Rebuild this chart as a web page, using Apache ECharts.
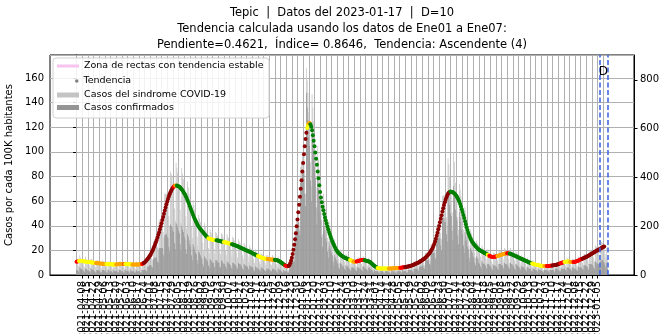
<!DOCTYPE html>
<html><head><meta charset="utf-8">
<script src="https://cdn.jsdelivr.net/npm/echarts@6/dist/echarts.min.js"></script>
<style>html,body{margin:0;padding:0;background:#fff}#c{width:669px;height:334px}</style>
</head><body><div id="c"></div>
<script>
// ---- data ----
const startDate = '2021-04-01';
const reportDate = '2023-01-17';
const windowStartDate = '2023-01-07';
const tickStepDays = 7;

// daily "Casos del sindrome COVID-19" per 100K (one row per week, starting Thursday 2021-04-01)
const sindrome = [
12,11,8,7,16,14,13, 12,10,8,6,15,13,12, 11,10,8,6,13,13,12, 10,10,7,6,12,12,11,
10,9,7,5,12,11,11, 9,9,7,5,11,11,10, 9,9,6,5,11,10,10, 9,9,7,5,11,11,10,
10,9,7,5,11,11,10, 9,9,6,5,11,10,10, 9,9,6,5,11,10,10, 9,9,7,5,11,11,11,
11,11,9,7,16,17,17, 17,17,14,12,27,28,29, 28,29,23,20,44,45,45, 44,45,35,30,66,66,66,
63,62,48,39,84,82,80, 74,72,54,44,91,87,83, 76,72,53,42,87,82,78, 70,65,48,38,76,71,66,
59,54,39,30,61,57,53, 46,43,31,24,49,46,43, 38,36,26,20,42,39,36, 33,30,22,18,37,35,33,
30,29,21,17,35,34,32, 29,28,21,17,34,33,31, 28,27,20,16,33,31,30, 27,25,19,15,31,30,28,
25,24,18,14,29,27,26, 23,22,16,13,26,25,23, 21,20,15,11,24,22,21, 19,18,13,10,21,19,18,
16,15,11,9,18,17,16, 14,13,10,8,16,16,15, 13,13,9,8,16,15,14, 13,12,9,7,15,14,13,
11,10,7,5,11,10,9, 8,7,5,4,10,11,13, 15,17,15,15,36,41,45, 47,51,43,38,88,92,97,
96,98,78,66,168,158,148, 132,124,92,72,147,136,125, 110,100,71,54,105,94,84, 71,63,44,33,66,59,54,
46,42,30,22,44,40,36, 31,28,19,15,29,26,23, 20,19,13,10,21,19,18, 16,15,11,8,17,16,15,
13,12,9,7,14,13,13, 11,11,8,7,14,14,13, 12,12,9,7,15,15,14, 12,12,8,7,14,13,12,
10,9,6,5,9,8,7, 6,6,4,3,7,6,6, 6,5,4,3,7,6,6, 5,5,4,3,7,6,6,
6,5,4,3,7,7,6, 6,6,4,4,8,7,7, 7,7,5,4,9,9,9, 8,8,6,5,11,11,10,
10,10,8,6,13,13,13, 13,13,10,8,18,18,18, 17,17,13,11,25,25,25, 25,25,20,18,40,41,43,
42,43,34,29,64,65,65, 62,61,47,39,95,90,80, 71,68,51,40,100,92,75, 68,64,47,37,74,69,64,
56,51,37,28,55,49,45, 38,34,24,18,37,34,31, 27,25,18,14,28,26,25, 22,20,15,12,24,22,21,
19,18,13,10,21,19,18, 16,15,11,9,18,18,17, 16,15,12,9,20,19,19, 17,17,13,10,22,21,20,
18,18,13,10,22,20,19, 17,16,12,9,19,18,17, 15,14,10,8,16,15,14, 13,12,9,7,14,13,12,
10,10,7,6,12,11,10, 9,8,6,5,10,9,9, 8,7,6,4,9,9,8, 8,7,6,4,9,9,9,
8,8,6,5,10,10,10, 9,9,7,6,12,12,12, 11,11,8,6,14,13,13, 11,11,8,6,13,13,12,
11,11,8,7,15,14,14, 13,13,10,8,17,17,17, 16,15,12,9,20,20,20, 18,18,14,11,24,23,23,
21,21,16,13,27,27,26, 24,23,17,14,22,12
];

// daily "Casos confirmados" per 100K
const confirmados = [
4,4,3,2,6,5,5, 4,4,3,2,5,5,4, 4,3,3,2,5,5,4, 4,3,2,2,4,4,4,
3,3,2,2,4,4,4, 3,3,2,2,4,4,3, 3,3,2,2,4,3,3, 3,3,2,2,4,4,3,
3,3,2,2,4,4,3, 3,3,2,2,4,3,3, 3,3,2,2,4,3,3, 3,3,2,2,4,4,4,
4,4,3,3,7,7,8, 8,8,7,6,13,14,14, 14,14,11,10,22,22,22, 22,22,17,15,32,33,33,
31,30,23,19,41,40,39, 36,35,26,21,42,41,39, 36,34,25,20,40,37,35, 31,29,21,17,33,31,28,
25,23,16,12,25,23,21, 18,17,12,9,19,18,16, 14,13,9,7,15,14,13, 12,11,8,6,13,12,11,
10,10,7,6,12,12,11, 10,10,7,6,12,11,10, 9,9,7,5,11,10,10, 9,8,6,5,10,10,9,
8,8,6,5,10,9,9, 8,7,5,4,9,8,8, 7,7,5,4,8,7,7, 6,6,4,3,7,6,6,
5,5,4,3,6,6,5, 5,4,3,3,5,5,5, 4,4,3,3,5,5,5, 4,4,3,2,5,5,4,
4,3,2,2,4,3,3, 3,3,2,2,5,6,8, 10,12,11,11,28,33,37, 39,43,36,32,75,78,83,
82,84,66,56,148,136,126, 112,105,77,60,122,112,102, 88,79,55,41,80,70,62, 51,45,31,23,45,40,36,
30,27,19,14,27,24,21, 18,16,11,8,16,14,12, 10,9,6,5,10,9,8, 7,7,5,4,8,7,7,
6,5,4,3,6,6,6, 5,5,4,3,6,6,6, 5,5,4,3,7,7,6, 5,5,4,3,6,6,5,
4,4,3,2,4,3,3, 3,3,2,1,3,3,3, 3,2,2,1,3,3,3, 2,2,2,1,3,3,3,
3,2,2,1,3,3,3, 3,3,2,2,4,3,3, 3,3,2,2,4,4,4, 4,4,3,2,5,5,5,
5,5,4,3,7,7,7, 8,8,6,5,12,12,12, 12,12,9,8,18,18,18, 18,18,14,13,28,29,30,
29,30,24,20,45,46,46, 43,43,33,27,68,64,57, 50,48,36,28,72,66,53, 47,44,32,25,51,47,43,
37,33,24,18,35,31,28, 23,21,14,11,22,20,18, 15,14,10,8,15,14,13, 10,9,7,5,11,10,9,
9,8,6,5,9,9,8, 7,7,5,4,8,8,8, 7,7,5,4,9,9,9, 8,8,6,5,10,9,9,
8,8,6,5,10,9,9, 8,7,5,4,9,8,8, 7,6,5,4,7,7,6, 6,5,4,3,6,6,5,
5,5,3,3,5,5,5, 4,4,3,2,5,4,4, 4,3,3,2,4,4,4, 4,3,3,2,4,4,4,
4,4,3,2,5,5,5, 4,4,3,3,5,5,5, 5,5,4,3,6,6,6, 5,5,4,3,6,6,5,
5,5,4,3,7,6,6, 6,6,5,4,8,8,8, 7,7,5,4,9,9,9, 8,8,6,5,11,10,10,
9,9,7,6,12,12,12, 11,10,8,6,10,5
];

// daily trend (smoothed cases per 100K), ends 2023-01-13
const tendencia = [
10.8,11.0,11.2,11.3,11.4,11.4,11.3, 11.3,11.2,11.1,11.0,10.9,10.8,10.7, 10.6,10.6,10.5,10.4,10.3,10.2,10.1,
10.0,9.9,9.8,9.7,9.6,9.6,9.5, 9.5,9.4,9.3,9.2,9.1,9.1,9.0, 9.0,8.9,8.9,8.8,8.8,8.8,8.7,
8.7,8.7,8.6,8.6,8.6,8.6,8.6, 8.6,8.7,8.7,8.8,8.8,8.9,8.9, 9.0,9.0,9.0,8.9,8.9,8.9,8.8,
8.8,8.8,8.7,8.7,8.7,8.6,8.6, 8.6,8.6,8.6,8.6,8.6,8.6,8.6, 8.6,8.7,8.7,8.8,9.0,9.3,9.7,
10.2,10.8,11.5,12.3,13.1,14.0,15.0, 16.1,17.3,18.6,20.0,21.5,23.1,24.8, 26.6,28.5,30.5,32.6,34.8,37.1,39.5,
42.0,44.6,47.2,49.8,52.4,54.9,57.3, 59.6,61.8,63.8,65.6,67.2,68.6,69.8, 70.8,71.6,72.2,72.6,72.7,72.6,72.3,
72.0,71.6,71.0,70.3,69.5,68.6,67.6, 66.5,65.3,64.0,62.6,61.0,59.3,57.6, 55.8,54.0,52.2,50.5,48.8,47.2,45.7,
44.2,42.8,41.5,40.3,39.2,38.2,37.3, 36.5,35.7,34.9,34.1,33.3,32.5,31.7, 31.0,30.4,29.9,29.5,29.2,29.0,28.8,
28.7,28.6,28.5,28.4,28.3,28.2,28.1, 28.0,27.9,27.7,27.5,27.3,27.2,27.0, 26.8,26.6,26.5,26.3,26.2,26.0,25.8,
25.6,25.4,25.2,25.0,24.8,24.6,24.4, 24.1,23.8,23.5,23.3,23.0,22.7,22.4, 22.1,21.8,21.5,21.2,20.9,20.6,20.3,
20.0,19.7,19.4,19.1,18.8,18.5,18.2, 17.8,17.5,17.1,16.8,16.4,16.1,15.8, 15.5,15.2,14.9,14.6,14.3,14.0,13.8,
13.6,13.4,13.2,13.1,13.0,12.9,12.8, 12.7,12.6,12.6,12.5,12.5,12.4,12.4, 12.3,12.2,12.1,11.9,11.6,11.3,10.9,
10.5,10.1,9.6,9.1,8.6,8.1,7.7, 7.4,7.2,7.1,7.3,8.0,9.5,11.5, 14.0,17.0,20.5,24.5,29.0,34.0,39.5,
45.0,51.0,57.0,63.5,70.0,77.0,84.0, 91.0,98.0,104.5,110.5,115.5,119.5,122.0, 123.3,123.5,122.5,120.5,117.5,113.5,109.0,
104.5,99.5,94.5,89.5,84.0,78.5,73.0, 67.5,63.0,59.0,55.5,52.5,49.5,46.8, 44.2,41.8,39.4,37.2,35.0,33.0,31.0,
29.2,27.5,25.8,24.3,22.9,21.6,20.4, 19.4,18.5,17.7,17.0,16.4,15.9,15.4, 15.0,14.6,14.2,13.9,13.6,13.3,13.0,
12.7,12.4,12.1,11.8,11.5,11.2,10.9, 10.8,10.8,10.9,11.0,11.2,11.4,11.6, 11.8,12.0,12.1,12.2,12.2,12.1,11.9,
11.7,11.5,11.3,11.1,10.9,10.7,10.3, 9.8,9.2,8.6,8.0,7.4,6.9,6.4, 6.0,5.7,5.5,5.4,5.3,5.3,5.3,
5.2,5.2,5.2,5.2,5.2,5.2,5.2, 5.2,5.3,5.3,5.3,5.3,5.3,5.4, 5.4,5.4,5.5,5.5,5.5,5.6,5.6,
5.7,5.8,5.9,6.0,6.1,6.2,6.3, 6.4,6.5,6.7,6.9,7.0,7.2,7.4, 7.6,7.8,8.0,8.2,8.5,8.8,9.1,
9.4,9.7,10.0,10.4,10.8,11.2,11.6, 12.0,12.5,13.0,13.5,14.1,14.7,15.4, 16.1,16.9,17.7,18.6,19.6,20.7,22.0,
23.5,25.2,27.2,29.4,31.8,34.4,37.1, 39.9,42.8,45.7,48.6,51.5,54.2,56.8, 59.1,61.2,63.0,64.6,65.9,66.9,67.5,
67.8,67.7,67.5,67.2,66.7,66.1,65.4, 64.6,63.6,62.4,61.0,59.4,57.6,55.6, 53.4,51.1,48.7,46.2,43.7,41.2,38.8,
36.5,34.4,32.5,30.8,29.3,28.0,26.9, 25.9,25.0,24.2,23.4,22.7,22.0,21.4, 20.8,20.3,19.8,19.4,19.0,18.7,18.3,
18.0,17.6,17.3,16.9,16.5,16.1,15.7, 15.3,15.0,14.8,14.7,14.7,14.8,14.9, 15.1,15.3,15.5,15.7,15.9,16.1,16.3,
16.5,16.7,16.9,17.1,17.3,17.4,17.5, 17.6,17.6,17.5,17.4,17.2,17.0,16.7, 16.4,16.1,15.8,15.5,15.2,14.9,14.6,
14.3,14.0,13.6,13.3,13.0,12.7,12.4, 12.1,11.8,11.5,11.2,10.9,10.6,10.3, 10.0,9.8,9.6,9.4,9.2,9.0,8.8,
8.6,8.4,8.2,8.1,7.9,7.8,7.7, 7.6,7.5,7.4,7.4,7.3,7.3,7.3, 7.3,7.3,7.4,7.4,7.5,7.6,7.7,
7.8,7.9,8.0,8.1,8.2,8.4,8.6, 8.8,9.0,9.3,9.5,9.8,10.0,10.2, 10.4,10.6,10.7,10.8,10.9,10.9,10.9,
10.8,10.7,10.6,10.5,10.5,10.5,10.6, 10.7,10.9,11.1,11.4,11.7,12.0,12.3, 12.7,13.0,13.3,13.6,13.9,14.2,14.5,
14.8,15.1,15.4,15.8,16.2,16.6,17.0, 17.4,17.8,18.2,18.6,19.0,19.4,19.8, 20.2,20.6,21.0,21.4,21.8,22.2,22.6,
22.9,23.2
];

// trend classification: segments (start day index, class 0..4)
const trendSegStart = [0,3,24,37,49,59,60,69,81,83,120,122,124,163,173,182,192,224,236,245,258,262,285,287,289,338,342,346,356,372,386,400,406,462,508,510,520,532,535,563,578,581,588,598,603,610,614,625];
const trendSegClass = [3,1,2,1,2,3,1,2,3,4,3,2,0,1,0,1,0,1,2,0,3,4,1,2,0,1,2,3,0,1,2,3,4,0,1,3,2,3,0,1,2,3,4,3,1,2,3,4];

const leftTicks = {min: 0, interval: 20};
const rightTicks = {min: 0, interval: 200};

// ---- styles ----
const classColors = ['#008000', '#ffff00', '#ffa500', '#ff0000', '#8b0000'];
const FONT = 'DejaVu Sans';
const GRID_COLOR = '#b0b0b0';

// ---- helpers ----
const DAY = 86400000;
const t0 = Date.parse(startDate + 'T00:00:00Z');
const dayIndex = s => Math.round((Date.parse(s + 'T00:00:00Z') - t0) / DAY);
const dayToDate = d => new Date(t0 + Math.round(d) * DAY).toISOString().slice(0, 10);
const lastDay = dayIndex(reportDate);
const winDay = dayIndex(windowStartDate);
const tickDays = [];
for (let d = 0; d <= lastDay; d += tickStepDays) tickDays.push(d);
const margin = lastDay * 0.05;

function classOf(d) {
  let c = trendSegClass[0];
  for (let i = 0; i < trendSegStart.length; i++) if (d >= trendSegStart[i]) c = trendSegClass[i];
  return c;
}

const leftMax = 178.7;
const rightMax = 902;

const chart = echarts.init(document.getElementById('c'), null, {renderer: 'canvas'});
chart.setOption({
  animation: false,
  textStyle: {fontFamily: FONT},
  title: {
    text: 'Tepic  |  Datos del 2023-01-17  |  D=10\nTendencia calculada usando los datos de Ene01 a Ene07:\nPendiente=0.4621,  Índice= 0.8646,  Tendencia: Ascendente (4)',
    left: 342, top: 5, textAlign: 'center', padding: 0,
    textStyle: {fontSize: 11.5, fontWeight: 'normal', lineHeight: 16, color: '#000', fontFamily: FONT}
  },
  grid: {left: 50, right: 35, top: 55, bottom: 59, outerBoundsMode: 'none', containLabel: false,
         show: true, borderColor: '#000', borderWidth: 1, backgroundColor: 'transparent'},
  graphic: [{
    type: 'rect', z: 8, silent: true,
    shape: {x: 53, y: 58, width: 216, height: 60, r: 3},
    style: {fill: 'rgba(255,255,255,0.85)', stroke: '#d0d0d0', lineWidth: 1}
  }],
  legend: [
    {z: 10, left: 57, top: 61, orient: 'vertical', padding: 0, itemGap: 0, itemWidth: 22, itemHeight: 3,
     data: [{name: 'Zona de rectas con tendencia estable', icon: 'rect'}],
     textStyle: {fontSize: 9.5, color: '#000', fontFamily: FONT}},
    {z: 10, left: 75, top: 76, orient: 'vertical', padding: 0, itemGap: 0, itemWidth: 3.5, itemHeight: 3.5,
     data: [{name: 'Tendencia', icon: 'circle'}],
     textStyle: {fontSize: 9.5, color: '#000', fontFamily: FONT}},
    {z: 10, left: 57, top: 90, orient: 'vertical', padding: 0, itemGap: 2.5, itemWidth: 22, itemHeight: 5,
     data: [{name: 'Casos del sindrome COVID-19', icon: 'rect'}, {name: 'Casos confirmados', icon: 'rect'}],
     textStyle: {fontSize: 9.5, color: '#000', fontFamily: FONT}}
  ],
  xAxis: {
    type: 'value', min: -margin, max: lastDay + margin,
    axisLine: {show: true, onZero: false, lineStyle: {color: '#000', width: 1}},
    axisTick: {show: true, length: 3.5, customValues: tickDays, lineStyle: {color: '#000', width: 1}},
    axisLabel: {customValues: tickDays, rotate: 90, fontSize: 10, color: '#000', margin: 6, fontFamily: FONT,
                formatter: v => dayToDate(v)},
    splitLine: {show: false}
  },
  yAxis: [
    {type: 'value', min: leftTicks.min, max: leftMax, interval: leftTicks.interval, position: 'left',
     name: 'Casos por cada 100K habitantes', nameLocation: 'middle', nameGap: 30, nameRotate: 90,
     nameTextStyle: {fontSize: 10, color: '#000', fontFamily: FONT},
     axisLine: {show: true, lineStyle: {color: '#000', width: 1}},
     axisTick: {show: true, length: 3.5, lineStyle: {color: '#000'}},
     axisLabel: {fontSize: 10, color: '#000', margin: 6, showMaxLabel: false, fontFamily: FONT},
     splitLine: {show: true, lineStyle: {color: GRID_COLOR, width: 1}}},
    {type: 'value', min: rightTicks.min, max: rightMax, interval: rightTicks.interval, position: 'right',
     name: 'Casos netos', nameLocation: 'middle', nameGap: 30, nameRotate: 90,
     nameTextStyle: {fontSize: 10, color: '#000', fontFamily: FONT},
     axisLine: {show: true, lineStyle: {color: '#000', width: 1}},
     axisTick: {show: true, length: 3.5, lineStyle: {color: '#000'}},
     axisLabel: {fontSize: 10, color: '#000', margin: 6, showMaxLabel: false, fontFamily: FONT},
     splitLine: {show: false}}
  ],
  series: [
    {name: 'xgrid', type: 'line', data: [], z: 1, silent: true,
     markLine: {z: 1, silent: true, symbol: ['none', 'none'], label: {show: false}, animation: false,
       lineStyle: {color: GRID_COLOR, type: 'solid', width: 1},
       data: tickDays.map(d => ({xAxis: d}))}},
    {name: 'Zona de rectas con tendencia estable', type: 'line', data: [], itemStyle: {color: '#f7c3ef'}, lineStyle: {color: '#f7c3ef', width: 4}},
    {name: 'Casos del sindrome COVID-19', type: 'bar', barWidth: 0.75, barMinWidth: 0.1, barGap: '-100%',
     itemStyle: {color: '#c4c4c4'}, data: sindrome.map((v, d) => [d, v]), z: 2},
    {name: 'Casos confirmados', type: 'bar', barWidth: 0.75, barMinWidth: 0.1, barGap: '-100%',
     itemStyle: {color: '#959595'}, data: confirmados.map((v, d) => [d, v]), z: 2},
    {name: 'Tendencia', type: 'scatter', symbolSize: 4, z: 3,
     itemStyle: {color: '#808080', opacity: 1},
     data: tendencia.map((v, d) => ({value: [d, v], itemStyle: {color: classColors[classOf(d)]}})),
     markLine: {z: 5, silent: true, symbol: ['none', 'none'], label: {show: false},
       lineStyle: {color: '#4169e1', type: [5, 2.5], width: 1.6},
       data: [{xAxis: winDay}, {xAxis: lastDay}]},
     markPoint: {z: 5, silent: true, symbol: 'circle', symbolSize: 0,
       label: {show: true, formatter: 'D', fontSize: 12, color: '#000', fontFamily: FONT, position: 'inside'},
       data: [{coord: [(winDay + lastDay) / 2, 165]}]}}
  ]
});
</script></body></html>
